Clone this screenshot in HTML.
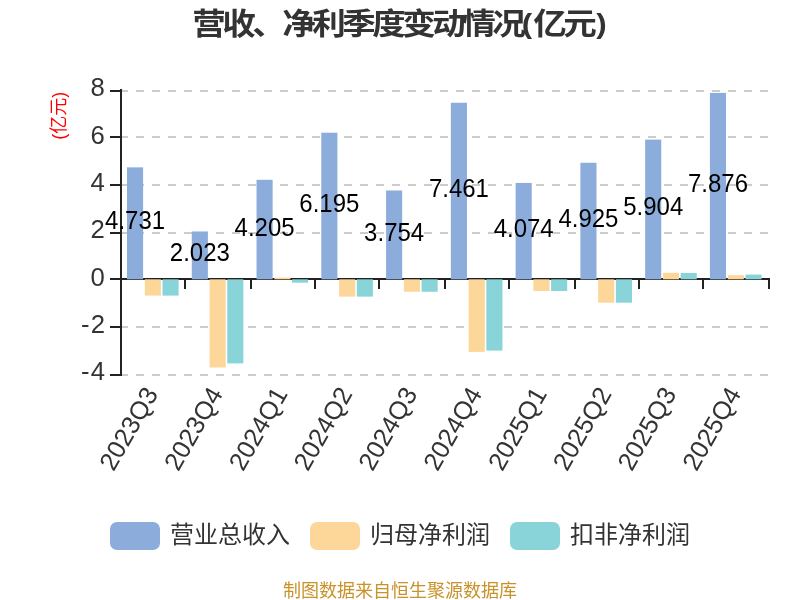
<!DOCTYPE html><html><head><meta charset="utf-8"><style>html,body{margin:0;padding:0;background:#fff;}svg{display:block;will-change:transform;}</style></head><body>
<svg width="800" height="600" viewBox="0 0 800 600">
<rect width="800" height="600" fill="#fff"/>
<text transform="translate(0,34) scale(1.12,1)" x="186.61 213.39 240.18 266.96 293.75 320.54 347.32 374.11 400.89 427.68 454.46 470.45 491.07 517.86 537.05" text-anchor="middle" font-family='"Liberation Sans", "Noto Sans CJK SC", sans-serif' font-size="30" font-weight="bold" fill="#333">营收、净利季度变动情况<tspan font-size="28" dy="-1.5">(</tspan><tspan dy="1.5">亿元</tspan><tspan font-size="28" dy="-1.5">)</tspan></text>
<text transform="translate(65,115.75) rotate(-90)" text-anchor="middle" font-family='"Liberation Sans", "Noto Sans CJK SC", sans-serif' font-size="18" fill="#f00">(亿元)</text>
<line x1="120" y1="91" x2="769" y2="91" stroke="#ccc" stroke-width="2" stroke-dasharray="8 8"/>
<line x1="120" y1="137" x2="769" y2="137" stroke="#ccc" stroke-width="2" stroke-dasharray="8 8"/>
<line x1="120" y1="185" x2="769" y2="185" stroke="#ccc" stroke-width="2" stroke-dasharray="8 8"/>
<line x1="120" y1="233" x2="769" y2="233" stroke="#ccc" stroke-width="2" stroke-dasharray="8 8"/>
<line x1="120" y1="327" x2="769" y2="327" stroke="#ccc" stroke-width="2" stroke-dasharray="8 8"/>
<line x1="120" y1="375" x2="769" y2="375" stroke="#ccc" stroke-width="2" stroke-dasharray="8 8"/>
<line x1="121" y1="89" x2="121" y2="376" stroke="#222" stroke-width="2"/>
<line x1="110" y1="91" x2="121" y2="91" stroke="#222" stroke-width="2"/>
<line x1="110" y1="137" x2="121" y2="137" stroke="#222" stroke-width="2"/>
<line x1="110" y1="185" x2="121" y2="185" stroke="#222" stroke-width="2"/>
<line x1="110" y1="233" x2="121" y2="233" stroke="#222" stroke-width="2"/>
<line x1="110" y1="279" x2="121" y2="279" stroke="#222" stroke-width="2"/>
<line x1="110" y1="327" x2="121" y2="327" stroke="#222" stroke-width="2"/>
<line x1="110" y1="375" x2="121" y2="375" stroke="#222" stroke-width="2"/>
<line x1="120" y1="279" x2="770" y2="279" stroke="#222" stroke-width="2"/>
<line x1="185" y1="279" x2="185" y2="289" stroke="#222" stroke-width="2"/>
<line x1="251" y1="279" x2="251" y2="289" stroke="#222" stroke-width="2"/>
<line x1="315" y1="279" x2="315" y2="289" stroke="#222" stroke-width="2"/>
<line x1="379" y1="279" x2="379" y2="289" stroke="#222" stroke-width="2"/>
<line x1="445" y1="279" x2="445" y2="289" stroke="#222" stroke-width="2"/>
<line x1="509" y1="279" x2="509" y2="289" stroke="#222" stroke-width="2"/>
<line x1="575" y1="279" x2="575" y2="289" stroke="#222" stroke-width="2"/>
<line x1="639" y1="279" x2="639" y2="289" stroke="#222" stroke-width="2"/>
<line x1="703" y1="279" x2="703" y2="289" stroke="#222" stroke-width="2"/>
<line x1="769" y1="279" x2="769" y2="289" stroke="#222" stroke-width="2"/>
<text transform="translate(104.8,96.40) scale(1.07,1.1)" text-anchor="end" font-family='"Liberation Sans", "Noto Sans CJK SC", sans-serif' font-size="24" fill="#333">8</text>
<text transform="translate(104.8,143.73) scale(1.07,1.1)" text-anchor="end" font-family='"Liberation Sans", "Noto Sans CJK SC", sans-serif' font-size="24" fill="#333">6</text>
<text transform="translate(104.8,191.07) scale(1.07,1.1)" text-anchor="end" font-family='"Liberation Sans", "Noto Sans CJK SC", sans-serif' font-size="24" fill="#333">4</text>
<text transform="translate(104.8,238.40) scale(1.07,1.1)" text-anchor="end" font-family='"Liberation Sans", "Noto Sans CJK SC", sans-serif' font-size="24" fill="#333">2</text>
<text transform="translate(104.8,285.73) scale(1.07,1.1)" text-anchor="end" font-family='"Liberation Sans", "Noto Sans CJK SC", sans-serif' font-size="24" fill="#333">0</text>
<text transform="translate(106,333.07) scale(1.07,1.1)" text-anchor="end" letter-spacing="1" font-family='"Liberation Sans", "Noto Sans CJK SC", sans-serif' font-size="24" fill="#333">-2</text>
<text transform="translate(106,380.40) scale(1.07,1.1)" text-anchor="end" letter-spacing="1" font-family='"Liberation Sans", "Noto Sans CJK SC", sans-serif' font-size="24" fill="#333">-4</text>
<rect x="127.00" y="167.36" width="16.1" height="111.97" fill="#8cacdb"/>
<rect x="144.80" y="279.33" width="16.1" height="16.26" fill="#fdd699"/>
<rect x="162.50" y="279.33" width="16.1" height="16.26" fill="#88d4d8"/>
<rect x="191.77" y="231.45" width="16.1" height="47.88" fill="#8cacdb"/>
<rect x="209.57" y="279.33" width="16.1" height="88.16" fill="#fdd699"/>
<rect x="227.27" y="279.33" width="16.1" height="84.07" fill="#88d4d8"/>
<rect x="256.54" y="179.81" width="16.1" height="99.52" fill="#8cacdb"/>
<rect x="274.34" y="277.60" width="16.1" height="1.73" fill="#fdd699"/>
<rect x="292.04" y="279.33" width="16.1" height="3.36" fill="#88d4d8"/>
<rect x="321.31" y="132.71" width="16.1" height="146.62" fill="#8cacdb"/>
<rect x="339.11" y="279.33" width="16.1" height="17.28" fill="#fdd699"/>
<rect x="356.81" y="279.33" width="16.1" height="17.28" fill="#88d4d8"/>
<rect x="386.08" y="190.48" width="16.1" height="88.85" fill="#8cacdb"/>
<rect x="403.88" y="279.33" width="16.1" height="12.43" fill="#fdd699"/>
<rect x="421.58" y="279.33" width="16.1" height="12.43" fill="#88d4d8"/>
<rect x="450.85" y="102.75" width="16.1" height="176.58" fill="#8cacdb"/>
<rect x="468.65" y="279.33" width="16.1" height="72.56" fill="#fdd699"/>
<rect x="486.35" y="279.33" width="16.1" height="71.26" fill="#88d4d8"/>
<rect x="515.62" y="182.91" width="16.1" height="96.42" fill="#8cacdb"/>
<rect x="533.42" y="279.33" width="16.1" height="11.67" fill="#fdd699"/>
<rect x="551.12" y="279.33" width="16.1" height="11.67" fill="#88d4d8"/>
<rect x="580.39" y="162.77" width="16.1" height="116.56" fill="#8cacdb"/>
<rect x="598.19" y="279.33" width="16.1" height="23.36" fill="#fdd699"/>
<rect x="615.89" y="279.33" width="16.1" height="23.36" fill="#88d4d8"/>
<rect x="645.16" y="139.60" width="16.1" height="139.73" fill="#8cacdb"/>
<rect x="662.96" y="272.80" width="16.1" height="6.53" fill="#fdd699"/>
<rect x="680.66" y="273.01" width="16.1" height="6.32" fill="#88d4d8"/>
<rect x="709.93" y="92.93" width="16.1" height="186.40" fill="#8cacdb"/>
<rect x="727.73" y="275.19" width="16.1" height="4.14" fill="#fdd699"/>
<rect x="745.43" y="274.60" width="16.1" height="4.73" fill="#88d4d8"/>
<text transform="translate(135.05,229.35) scale(1,1.1)" text-anchor="middle" font-family='"Liberation Sans", "Noto Sans CJK SC", sans-serif' font-size="24" fill="#000">4.731</text>
<text transform="translate(199.82,261.39) scale(1,1.1)" text-anchor="middle" font-family='"Liberation Sans", "Noto Sans CJK SC", sans-serif' font-size="24" fill="#000">2.023</text>
<text transform="translate(264.59,235.57) scale(1,1.1)" text-anchor="middle" font-family='"Liberation Sans", "Noto Sans CJK SC", sans-serif' font-size="24" fill="#000">4.205</text>
<text transform="translate(329.36,212.02) scale(1,1.1)" text-anchor="middle" font-family='"Liberation Sans", "Noto Sans CJK SC", sans-serif' font-size="24" fill="#000">6.195</text>
<text transform="translate(394.13,240.91) scale(1,1.1)" text-anchor="middle" font-family='"Liberation Sans", "Noto Sans CJK SC", sans-serif' font-size="24" fill="#000">3.754</text>
<text transform="translate(458.90,197.04) scale(1,1.1)" text-anchor="middle" font-family='"Liberation Sans", "Noto Sans CJK SC", sans-serif' font-size="24" fill="#000">7.461</text>
<text transform="translate(523.67,237.12) scale(1,1.1)" text-anchor="middle" font-family='"Liberation Sans", "Noto Sans CJK SC", sans-serif' font-size="24" fill="#000">4.074</text>
<text transform="translate(588.44,227.05) scale(1,1.1)" text-anchor="middle" font-family='"Liberation Sans", "Noto Sans CJK SC", sans-serif' font-size="24" fill="#000">4.925</text>
<text transform="translate(653.21,215.47) scale(1,1.1)" text-anchor="middle" font-family='"Liberation Sans", "Noto Sans CJK SC", sans-serif' font-size="24" fill="#000">5.904</text>
<text transform="translate(717.98,192.13) scale(1,1.1)" text-anchor="middle" font-family='"Liberation Sans", "Noto Sans CJK SC", sans-serif' font-size="24" fill="#000">7.876</text>
<text transform="translate(158.90,393.75) rotate(-60)" text-anchor="end" font-family='"Liberation Sans", "Noto Sans CJK SC", sans-serif' font-size="25.5" fill="#333">2023Q3</text>
<text transform="translate(223.67,393.75) rotate(-60)" text-anchor="end" font-family='"Liberation Sans", "Noto Sans CJK SC", sans-serif' font-size="25.5" fill="#333">2023Q4</text>
<text transform="translate(288.44,393.75) rotate(-60)" text-anchor="end" font-family='"Liberation Sans", "Noto Sans CJK SC", sans-serif' font-size="25.5" fill="#333">2024Q1</text>
<text transform="translate(353.21,393.75) rotate(-60)" text-anchor="end" font-family='"Liberation Sans", "Noto Sans CJK SC", sans-serif' font-size="25.5" fill="#333">2024Q2</text>
<text transform="translate(417.98,393.75) rotate(-60)" text-anchor="end" font-family='"Liberation Sans", "Noto Sans CJK SC", sans-serif' font-size="25.5" fill="#333">2024Q3</text>
<text transform="translate(482.75,393.75) rotate(-60)" text-anchor="end" font-family='"Liberation Sans", "Noto Sans CJK SC", sans-serif' font-size="25.5" fill="#333">2024Q4</text>
<text transform="translate(547.52,393.75) rotate(-60)" text-anchor="end" font-family='"Liberation Sans", "Noto Sans CJK SC", sans-serif' font-size="25.5" fill="#333">2025Q1</text>
<text transform="translate(612.29,393.75) rotate(-60)" text-anchor="end" font-family='"Liberation Sans", "Noto Sans CJK SC", sans-serif' font-size="25.5" fill="#333">2025Q2</text>
<text transform="translate(677.06,393.75) rotate(-60)" text-anchor="end" font-family='"Liberation Sans", "Noto Sans CJK SC", sans-serif' font-size="25.5" fill="#333">2025Q3</text>
<text transform="translate(741.83,393.75) rotate(-60)" text-anchor="end" font-family='"Liberation Sans", "Noto Sans CJK SC", sans-serif' font-size="25.5" fill="#333">2025Q4</text>
<rect x="110" y="522" width="50" height="28" rx="7" ry="7" fill="#8cacdb"/>
<text x="170" y="543" font-family='"Liberation Sans", "Noto Sans CJK SC", sans-serif' font-size="24" fill="#333">营业总收入</text>
<rect x="310" y="522" width="50" height="28" rx="7" ry="7" fill="#fdd699"/>
<text x="370" y="543" font-family='"Liberation Sans", "Noto Sans CJK SC", sans-serif' font-size="24" fill="#333">归母净利润</text>
<rect x="510" y="522" width="50" height="28" rx="7" ry="7" fill="#88d4d8"/>
<text x="570" y="543" font-family='"Liberation Sans", "Noto Sans CJK SC", sans-serif' font-size="24" fill="#333">扣非净利润</text>
<text x="400" y="596.5" text-anchor="middle" font-family='"Liberation Sans", "Noto Sans CJK SC", sans-serif' font-size="18" fill="#c8922a">制图数据来自恒生聚源数据库</text>
</svg></body></html>
